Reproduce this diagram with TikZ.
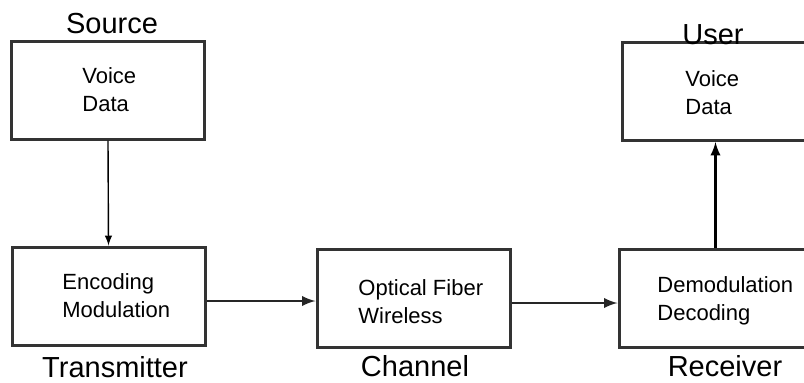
\documentclass[tikz,border=0pt]{standalone}
\usepackage{fontspec}
\setmainfont{Liberation Sans}
\begin{document}
\begin{tikzpicture}[x=0.5pt,y=-0.5pt,>=latex,
   box/.style={draw=black!80,line width=1.5pt,minimum width=96.5pt,minimum height=49pt,inner sep=0pt},
   txt/.style={anchor=west,align=left,inner sep=0pt,font=\fontsize{11}{14}\selectfont},
   lbl/.style={inner sep=0pt,font=\fontsize{14.5}{16}\selectfont},
   thin/.style={->,line width=0.7pt},
   thick/.style={->,line width=1.3pt,black!85}]
   \useasboundingbox (0,0) rectangle (804,382);
   \clip (0,0) rectangle (804,382);
   %boxes
   \node[box] (src) at (108,90) {};
   \node[box] (enc) at (108.5,296) {};
   \node[box] (chan) at (413.5,298.5) {};
   \node[box] (recv) at (715.5,298.5) {};
   \node[box] (user) at (718.5,91.5) {};
   %box texts
   \node[txt] (srctxt) at (82,89.5) {Voice\\Data};
   \node[txt] (enctxt) at (62,296) {Encoding\\Modulation};
   \node[txt] (chantxt) at (358,302) {Optical Fiber\\Wireless};
   \node[txt] (recvtxt) at (657,301) {Demodulation\\Decoding};
   \node[txt] (usertxt) at (685,93) {Voice\\Data};
   %labels
   \node[lbl] (srclbl) at (112,24) {Source};
   \node[lbl] (enclbl) at (115,367) {Transmitter};
   \node[lbl] (chanlbl) at (415,366) {Channel};
   \node[lbl] (recvlbl) at (725,366) {Receiver};
   \node[lbl] (userlbl) at (713,35) {User};
   %arrows
   \draw[thin] (src.south) -- (enc.north);
   \draw[thick] ([yshift=-2.5pt]enc.east) -- ([yshift=-2.5pt]enc.east -| chan.west);
   \draw[thick] ([yshift=-2.25pt]chan.east) -- ([yshift=-2.25pt]chan.east -| recv.west);
   \draw[thick,black] (recv.north) -- (recv.north |- user.south);
\end{tikzpicture}
\end{document}
